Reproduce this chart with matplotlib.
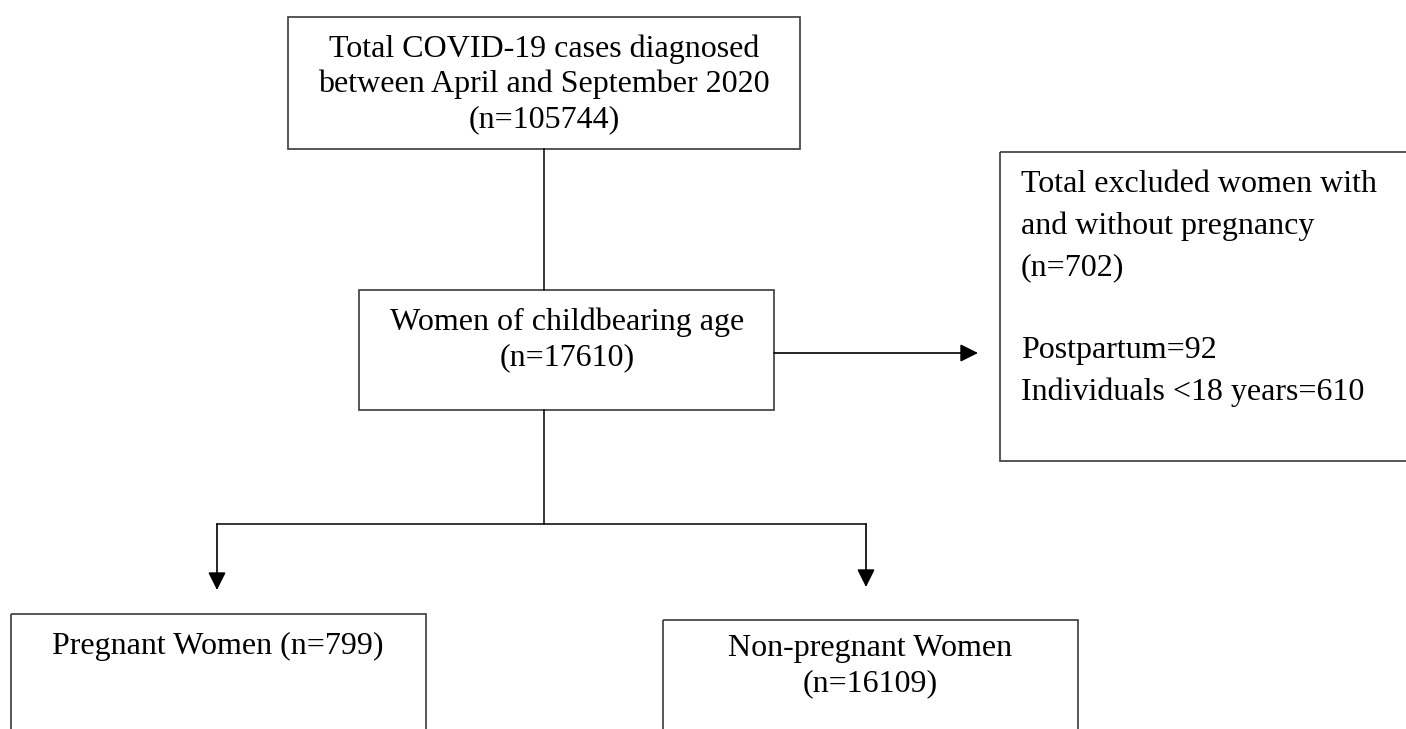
import matplotlib.pyplot as plt
from matplotlib.patches import Rectangle

# flowchart text (counts)
total_lines = ["Total COVID-19 cases diagnosed", "between April and September 2020", "(n=105744)"]
women_lines = ["Women of childbearing age", "(n=17610)"]
excluded_lines = ["Total excluded women with", "and without pregnancy", "(n=702)", "",
                  "Postpartum=92", "Individuals <18 years=610"]
pregnant_lines = ["Pregnant Women (n=799)"]
nonpregnant_lines = ["Non-pregnant Women", "(n=16109)"]

plt.rcParams['font.family'] = ['Liberation Serif', 'DejaVu Serif']
FS = 23
EDGE = '#3a3a3a'

fig = plt.figure(figsize=(14.06, 7.29), dpi=100)
ax = fig.add_axes([0, 0, 1, 1])
ax.set_xlim(0, 1406)
ax.set_ylim(729, 0)
ax.axis('off')


def box(x0, y0, x1, y1):
    ax.add_patch(Rectangle((x0, y0), x1 - x0, y1 - y0, fill=False,
                           edgecolor=EDGE, lw=1.2, clip_on=True))


def lines_centered(lines, xc, y_first, step):
    for i, t in enumerate(lines):
        ax.text(xc, y_first + i * step, t, ha='center', va='baseline', fontsize=FS)


def lines_left(lines, x, y_first, step):
    for i, t in enumerate(lines):
        ax.text(x, y_first + i * step, t, ha='left', va='baseline', fontsize=FS)


def arrow(x0, y0, x1, y1):
    ax.annotate('', xy=(x1, y1), xytext=(x0, y0),
                arrowprops=dict(arrowstyle='-|>,head_length=0.4,head_width=0.2',
                                mutation_scale=27, lw=1.2, color='black',
                                shrinkA=0, shrinkB=0))


# boxes
box(288, 17, 800, 149)
box(359, 290, 774, 410)
box(1000, 152, 1420, 461)
box(11, 614, 426, 760)
box(663, 620, 1078, 760)

# text
lines_centered(total_lines, 544, 57, 35)
lines_centered(women_lines, 567, 330, 35)
lines_left(excluded_lines, 1021, 192, 41.5)
lines_centered(pregnant_lines, 218, 654, 35)
lines_centered(nonpregnant_lines, 870, 656, 35)

# connectors
ax.plot([544, 544], [149, 290], color='black', lw=1.1)
ax.plot([544, 544], [410, 524], color='black', lw=1.1)
ax.plot([217, 866], [524, 524], color='black', lw=1.1)
arrow(774, 353, 978, 353)
arrow(217, 524, 217, 590)
arrow(866, 524, 866, 587)

fig.savefig('out.png', dpi=100)
